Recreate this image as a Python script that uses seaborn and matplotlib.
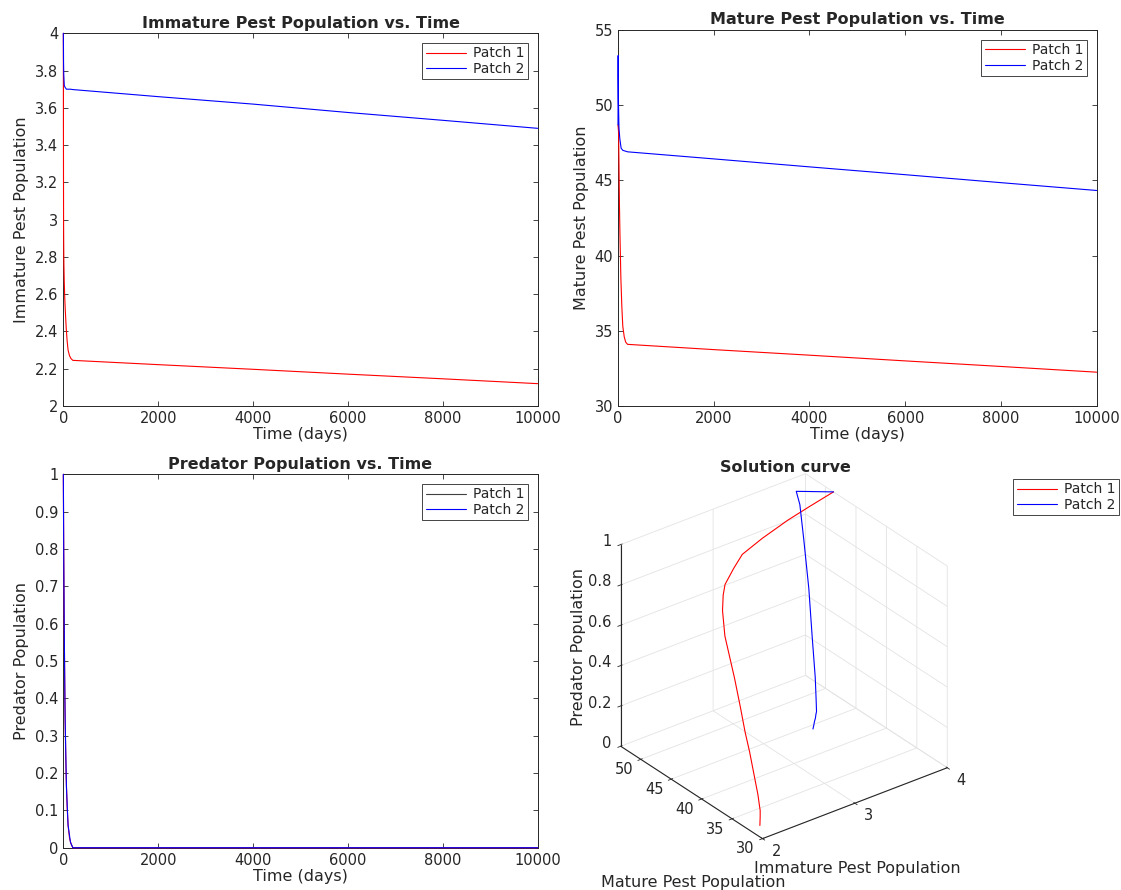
import matplotlib
matplotlib.use("Agg")
import matplotlib.pyplot as plt
from matplotlib.lines import Line2D
import pandas as pd
import seaborn as sns
from mpl_toolkits.mplot3d import Axes3D  # noqa: F401
from mpl_toolkits.mplot3d import proj3d

# ---- model output (two patches) ----
time_p1 = [0, 1, 2, 3.5, 5, 7, 10, 12, 15, 20, 25, 30, 40, 50, 60, 80, 100,
           130, 160, 200, 2000, 4000, 6000, 8000, 10000]
immature_p1 = [4.0, 3.74, 3.5, 3.22, 3.0, 2.9, 2.8, 2.76, 2.72, 2.66, 2.62, 2.58,
               2.52, 2.47, 2.42, 2.35, 2.30, 2.27, 2.255, 2.245,
               2.222, 2.197, 2.171, 2.146, 2.12]
mature_p1 = [48.7, 48.65, 48.6, 48.55, 48.5, 48.4, 48.3, 48.0, 47.5, 46.2, 44.8,
             43.4, 41.5, 40.0, 38.5, 36.6, 35.3, 34.6, 34.25, 34.1,
             33.75, 33.38, 33.0, 32.63, 32.25]
predator_p1 = [1.0, 0.975, 0.95, 0.91, 0.87, 0.82, 0.76, 0.72, 0.66, 0.57, 0.50,
               0.43, 0.33, 0.25, 0.19, 0.11, 0.06, 0.026, 0.011, 0.0,
               0.0, 0.0, 0.0, 0.0, 0.0]

time_p2 = [0, 3, 4, 9, 20, 37, 65, 100, 150, 200,
           2000, 4000, 6000, 8000, 10000]
immature_p2 = [4.0, 3.9, 3.85, 3.78, 3.72, 3.71, 3.70, 3.70, 3.70, 3.698,
               3.66, 3.62, 3.575, 3.533, 3.49]
mature_p2 = [48.7, 53.3, 51.95, 50.25, 48.5, 47.8, 47.14, 47.0, 46.95, 46.9,
             46.43, 45.9, 45.38, 44.85, 44.33]
predator_p2 = [1.0, 0.93, 0.9, 0.775, 0.574, 0.352, 0.163, 0.06, 0.015, 0.0,
               0.0, 0.0, 0.0, 0.0, 0.0]

patch_names = ["Patch 1", "Patch 2"]
patch_colors = ["#ff0000", "#0000ff"]

# 3-D axis ticks
immature_ticks = [2, 3, 4]
mature_ticks = [30, 35, 40, 45, 50]
predator_ticks = [0, 0.2, 0.4, 0.6, 0.8, 1.0]

df = pd.concat([
    pd.DataFrame({"time": time_p1, "immature": immature_p1, "mature": mature_p1,
                  "predator": predator_p1, "patch": patch_names[0]}),
    pd.DataFrame({"time": time_p2, "immature": immature_p2, "mature": mature_p2,
                  "predator": predator_p2, "patch": patch_names[1]}),
], ignore_index=True)

sns.set_theme(style="ticks")
ink = "#262626"
plt.rcParams.update({
    "font.family": ["DejaVu Sans"],
    "axes.edgecolor": ink,
    "axes.linewidth": 0.7,
    "axes.labelcolor": ink,
    "text.color": ink,
    "xtick.color": ink,
    "ytick.color": ink,
    "xtick.direction": "in",
    "ytick.direction": "in",
    "xtick.top": True,
    "ytick.right": True,
    "xtick.major.size": 3.5,
    "ytick.major.size": 3.5,
    "xtick.major.width": 0.6,
    "ytick.major.width": 0.6,
    "xtick.labelsize": 10.5,
    "ytick.labelsize": 10.5,
    "axes.labelsize": 11.5,
})

fig = plt.figure(figsize=(11.21, 8.90), dpi=100)
palette = dict(zip(patch_names, patch_colors))
W, H = 1121.0, 890.0


def legend_handles(colors=patch_colors):
    return [Line2D([], [], color=c, lw=0.8) for c in colors]


legend_style = dict(fontsize=10, frameon=True, fancybox=False, framealpha=1,
                    edgecolor=ink, handlelength=2.9, handletextpad=0.5,
                    borderpad=0.25, labelspacing=0.1)


def time_panel(rect, column, title, ylabel, ylim, yticks, key_colors=patch_colors):
    ax = fig.add_axes(rect)
    sns.lineplot(data=df, x="time", y=column, hue="patch", palette=palette,
                 estimator=None, sort=False, linewidth=0.8, legend=False,
                 ax=ax, zorder=3, clip_on=False)
    ax.set_xlim(0, 10000)
    ax.set_ylim(*ylim)
    ax.set_xticks(range(0, 10001, 2000))
    ax.set_yticks(yticks)
    ax.set_yticklabels([f"{v:g}" for v in yticks])
    ax.set_xlabel("Time (days)", labelpad=1)
    ax.set_ylabel(ylabel, labelpad=4)
    ax.set_title(title, fontsize=11.5, fontweight="bold", pad=4)
    leg = ax.legend(legend_handles(key_colors), patch_names, loc="upper right",
                    borderaxespad=0.7, **legend_style)
    leg.get_frame().set_linewidth(0.6)
    leg.set_zorder(5)
    return ax


time_panel([0.0565, 0.5438, 0.4232, 0.4188], "immature",
           "Immature Pest Population vs. Time", "Immature Pest Population",
           (2, 4), [2 + 0.2 * i for i in range(11)])
time_panel([0.5513, 0.5438, 0.4270, 0.4225], "mature",
           "Mature Pest Population vs. Time", "Mature Pest Population",
           (30, 55), list(range(30, 56, 5)))
time_panel([0.0565, 0.0475, 0.4232, 0.4196], "predator",
           "Predator Population vs. Time", "Predator Population",
           (0, 1), [0.1 * i for i in range(11)],
           key_colors=["#404040", patch_colors[1]])

# ---- 3-D solution curve ----
ax3 = fig.add_axes([0.484, 0.006, 0.42, 0.50], projection="3d")
ax3.set_facecolor((1, 1, 1, 0))
ax3.set_proj_type("ortho")
ax3.view_init(elev=30, azim=-127.5)
ax3.set_box_aspect((1, 1, 1), zoom=0.88)
ax3.plot(immature_p1, mature_p1, predator_p1, color=patch_colors[0], lw=0.8)
ax3.plot(immature_p2, mature_p2, predator_p2, color=patch_colors[1], lw=0.8)
x_lo, x_hi = 2, 4
y_lo, y_hi = 30, max(mature_p2)
ax3.set_xlim(x_lo, x_hi)
ax3.set_ylim(y_lo, y_hi)
ax3.set_zlim(0, 1)
ax3.set_xticks(immature_ticks)
ax3.set_yticks(mature_ticks)
ax3.set_zticks(predator_ticks)
for axis in (ax3.xaxis, ax3.yaxis, ax3.zaxis):
    axis.set_tick_params(label1On=False, label2On=False, colors=ink)
    axis.set_pane_color((1, 1, 1, 0))
    axis.pane.set_edgecolor("#e3e3e3")
    axis._axinfo["grid"]["color"] = "#e3e3e3"
    axis._axinfo["grid"]["linewidth"] = 0.6
    axis._axinfo["axisline"]["color"] = ink
    axis.line.set_color(ink)
    axis.line.set_linewidth(0.8)
ax3.set_xlabel("")
ax3.set_ylabel("")
ax3.set_zlabel("")

# upright tick labels just outside the box edges, positioned through the
# axes' own 3-D projection
fig.canvas.draw()
to_fig = fig.transFigure.inverted()


def tick_label(x, y, z, text, **kw):
    px, py, _ = proj3d.proj_transform(x, y, z, ax3.get_proj())
    fx, fy = to_fig.transform(ax3.transData.transform((px, py)))
    fig.text(fx, fy, text, fontsize=10.5, color=ink, va="center", **kw)


for v in immature_ticks:
    tick_label(v, y_lo - 2.3, -0.018, f"{v:g}", ha="center")
for v in mature_ticks:
    tick_label(x_lo - 0.184, v, -0.019, f"{v:g}", ha="center")
for v in predator_ticks:
    tick_label(x_lo - 0.03, y_hi + 1.0, v, f"{v:g}", ha="right")

fig.text(785 / W, 1 - 468 / H, "Solution curve", fontsize=11.5,
         fontweight="bold", ha="center", va="center")
fig.text(857 / W, 1 - 868 / H, "Immature Pest Population", fontsize=11.5,
         ha="center", va="center")
fig.text(693 / W, 1 - 882 / H, "Mature Pest Population", fontsize=11.5,
         ha="center", va="center")
fig.text(578 / W, 1 - 647 / H, "Predator Population", fontsize=11.5,
         ha="center", va="center", rotation=90)

leg3 = fig.legend(legend_handles(), patch_names, loc="upper right",
                  bbox_to_anchor=(1119 / W, 1 - 479 / H), borderaxespad=0,
                  **legend_style)
leg3.get_frame().set_linewidth(0.6)

fig.savefig("out.png", dpi=100)
